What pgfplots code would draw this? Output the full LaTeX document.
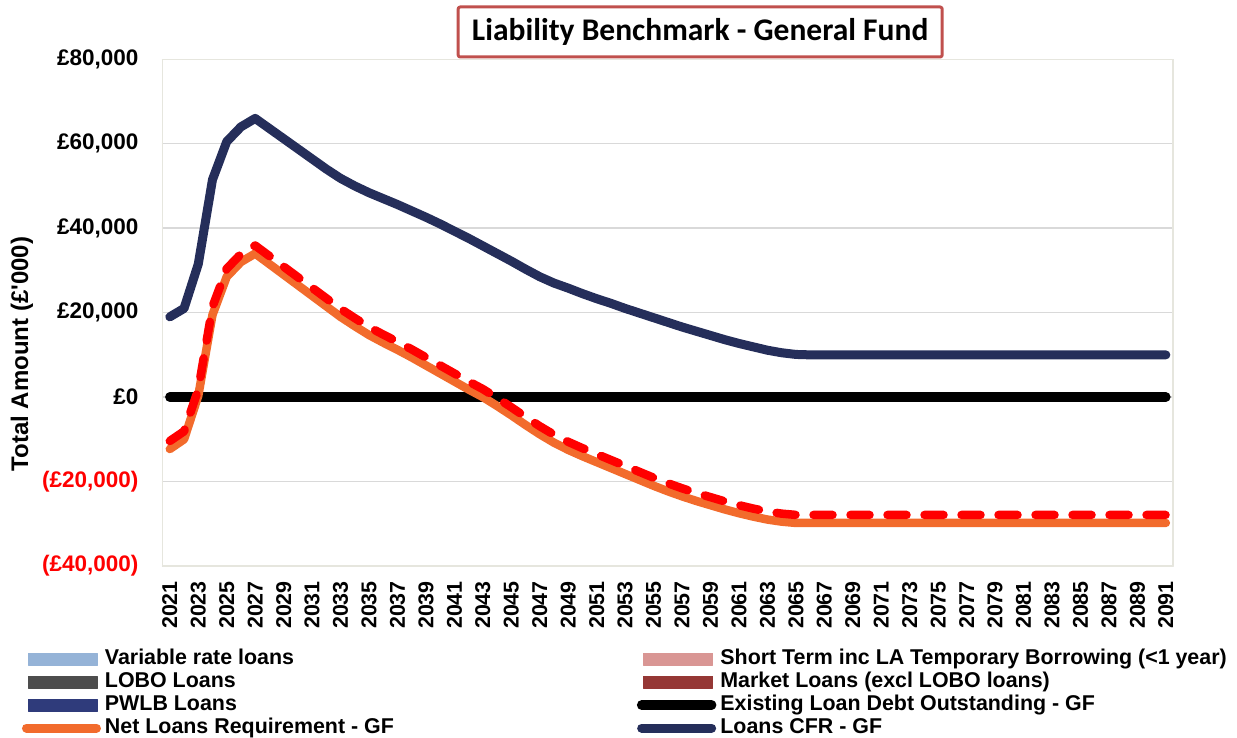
\documentclass[border=0pt]{standalone}
\usepackage{pgfplots}
\pgfplotsset{compat=1.18}
\usepackage{fontspec}
\setmainfont{Liberation Sans}
\newfontfamily\titlefont{Carlito}
\definecolor{cfr}{HTML}{252E5A}
\definecolor{netc}{HTML}{F26B2C}
\definecolor{gridc}{HTML}{D9D9D9}
\definecolor{axc}{HTML}{E6E6DE}
\definecolor{vr}{HTML}{95B3D7}
\definecolor{st}{HTML}{D99694}
\definecolor{lobo}{HTML}{4D4D4D}
\definecolor{mkt}{HTML}{953735}
\definecolor{pwlb}{HTML}{2F3B7B}
\definecolor{titlec}{HTML}{C0504D}
\newcommand{\lf}{\fontsize{21.4}{24}\selectfont\bfseries}
\newcommand{\yf}{\fontsize{22.5}{24}\selectfont\bfseries}
\begin{document}
\begin{tikzpicture}[x=1pt,y=1pt]
\path[use as bounding box] (0,0) rectangle (1237,738);
\begin{axis}[
  at={(162.7pt,172pt)}, anchor=south west,
  scale only axis, width=1010.3pt, height=506.7pt,
  xmin=2020.5, xmax=2091.5, ymin=-40000, ymax=80000,
  xtick={2021,2023,...,2091},
  ytick={-40000,-20000,0,20000,40000,60000,80000},
  yticklabels={{\textcolor{red}{(£40,000)}},{\textcolor{red}{(£20,000)}},{£0},{£20,000},{£40,000},{£60,000},{£80,000}},
  scaled y ticks=false,
  x tick label style={rotate=90, anchor=east, inner sep=0pt, font=\lf, /pgf/number format/1000 sep={}, /pgf/number format/assume math mode=true},
  y tick label style={anchor=east, inner sep=0pt, font=\yf},
  xticklabel shift=15pt,
  yticklabel shift=24pt,
  major tick length=0pt,
  ymajorgrids,
  major grid style={draw=gridc, line width=1.5pt},
  axis line style={draw=axc, line width=1.2pt},
  ylabel={Total Amount (£\textquotesingle 000)},
  ylabel style={font=\fontsize{24}{26}\selectfont\bfseries, at={(axis description cs:-0.1393,0.4184)}, anchor=center, rotate=0},
  title={\titlefont\fontsize{31.5}{34}\selectfont\bfseries Liability Benchmark - General Fund},
  title style={at={(axis description cs:0.532,1.0539)}, anchor=center, yshift=-6pt, draw=titlec, line width=3pt, rounded corners=2pt, minimum width=484pt, minimum height=50pt, inner sep=0pt},
  legend columns=2,
  legend cell align=left,
  legend style={at={(axis description cs:-0.1393,-0.1629)}, anchor=north west, draw=none, fill=none, inner sep=0pt, outer sep=0pt, font=\lf, row sep=2pt, nodes={inner sep=1pt, text height=15pt, text depth=4pt}, /tikz/every odd column/.append style={column sep=3pt}, /tikz/every even column/.append style={column sep=242pt}},
  line join=round, line cap=round,
]
\addlegendimage{legend image code/.code={\fill[vr] (2pt,-6pt) rectangle (71pt,6pt);}}
\addlegendentry{Variable rate loans}
\addlegendimage{legend image code/.code={\fill[st] (2pt,-6pt) rectangle (71pt,6pt);}}
\addlegendentry{Short Term inc LA Temporary Borrowing (<1 year)}
\addlegendimage{legend image code/.code={\fill[lobo] (2pt,-6pt) rectangle (71pt,6pt);}}
\addlegendentry{LOBO Loans}
\addlegendimage{legend image code/.code={\fill[mkt] (2pt,-6pt) rectangle (71pt,6pt);}}
\addlegendentry{Market Loans (excl LOBO loans)}
\addlegendimage{legend image code/.code={\fill[pwlb] (2pt,-6pt) rectangle (71pt,6pt);}}
\addlegendentry{PWLB Loans}
\addplot[black, line width=9.5pt, legend image code/.code={\draw[black,line width=9.5pt,line cap=round] (0pt,0pt) -- (70pt,0pt);}] coordinates {(2021,0) (2091,0)};
\addlegendentry{Existing Loan Debt Outstanding - GF}
\addplot[netc, line width=8.5pt, legend image code/.code={\draw[netc,line width=9pt,line cap=round] (0pt,0pt) -- (70pt,0pt);}] coordinates {
(2021,-12300)(2022,-10000)(2023,300)(2024,19500)(2025,28500)(2026,32000)(2027,34000)(2028,31500)(2029,29000)(2030,26500)
(2031,24000)(2032,21500)(2033,19000)(2034,16800)(2035,14700)(2036,12900)(2037,11200)(2038,9400)(2039,7500)(2040,5600)
(2041,3700)(2042,1800)(2043,0)(2044,-2100)(2045,-4300)(2046,-6600)(2047,-8800)(2048,-10800)(2049,-12500)(2050,-14000)
(2051,-15400)(2052,-16800)(2053,-18200)(2054,-19600)(2055,-21000)(2056,-22300)(2057,-23500)(2058,-24600)(2059,-25600)(2060,-26600)
(2061,-27500)(2062,-28300)(2063,-29000)(2064,-29500)(2065,-29800)(2066,-29800)(2067,-29800)(2068,-29800)(2069,-29800)(2070,-29800)
(2071,-29800)(2072,-29800)(2073,-29800)(2074,-29800)(2075,-29800)(2076,-29800)(2077,-29800)(2078,-29800)(2079,-29800)(2080,-29800)
(2081,-29800)(2082,-29800)(2083,-29800)(2084,-29800)(2085,-29800)(2086,-29800)(2087,-29800)(2088,-29800)(2089,-29800)(2090,-29800)(2091,-29800)};
\addlegendentry{Net Loans Requirement - GF}
\addplot[cfr, line width=9pt, legend image code/.code={\draw[cfr,line width=9pt,line cap=round] (0pt,0pt) -- (70pt,0pt);}] coordinates {
(2021,19000)(2022,21000)(2023,31500)(2024,51500)(2025,60500)(2026,64000)(2027,66000)(2028,63600)(2029,61200)(2030,58800)
(2031,56400)(2032,54000)(2033,51800)(2034,50000)(2035,48400)(2036,47000)(2037,45600)(2038,44100)(2039,42600)(2040,41000)
(2041,39300)(2042,37600)(2043,35800)(2044,34000)(2045,32200)(2046,30300)(2047,28500)(2048,27000)(2049,25800)(2050,24500)
(2051,23300)(2052,22200)(2053,21000)(2054,19900)(2055,18800)(2056,17700)(2057,16600)(2058,15600)(2059,14600)(2060,13600)
(2061,12700)(2062,11900)(2063,11100)(2064,10500)(2065,10100)(2066,10000)(2067,10000)(2068,10000)(2069,10000)(2070,10000)
(2071,10000)(2072,10000)(2073,10000)(2074,10000)(2075,10000)(2076,10000)(2077,10000)(2078,10000)(2079,10000)(2080,10000)
(2081,10000)(2082,10000)(2083,10000)(2084,10000)(2085,10000)(2086,10000)(2087,10000)(2088,10000)(2089,10000)(2090,10000)(2091,10000)};
\addlegendentry{Loans CFR - GF}
\addplot[red, line width=8.5pt, dash pattern=on 19pt off 18pt, forget plot] coordinates {
(2021,-10400)(2022,-8100)(2023,1800)(2024,21400)(2025,30400)(2026,33900)(2027,35900)(2028,33400)(2029,30900)(2030,28400)
(2031,25900)(2032,23400)(2033,20900)(2034,18700)(2035,16600)(2036,14800)(2037,13100)(2038,11300)(2039,9400)(2040,7500)
(2041,5600)(2042,3700)(2043,1900)(2044,-200)(2045,-2400)(2046,-4700)(2047,-6900)(2048,-8900)(2049,-10600)(2050,-12100)
(2051,-13500)(2052,-14900)(2053,-16300)(2054,-17700)(2055,-19100)(2056,-20400)(2057,-21600)(2058,-22700)(2059,-23700)(2060,-24700)
(2061,-25600)(2062,-26400)(2063,-27100)(2064,-27600)(2065,-27900)(2066,-27900)(2067,-27900)(2068,-27900)(2069,-27900)(2070,-27900)
(2071,-27900)(2072,-27900)(2073,-27900)(2074,-27900)(2075,-27900)(2076,-27900)(2077,-27900)(2078,-27900)(2079,-27900)(2080,-27900)
(2081,-27900)(2082,-27900)(2083,-27900)(2084,-27900)(2085,-27900)(2086,-27900)(2087,-27900)(2088,-27900)(2089,-27900)(2090,-27900)(2091,-27900)};
\end{axis}
\end{tikzpicture}
\end{document}
